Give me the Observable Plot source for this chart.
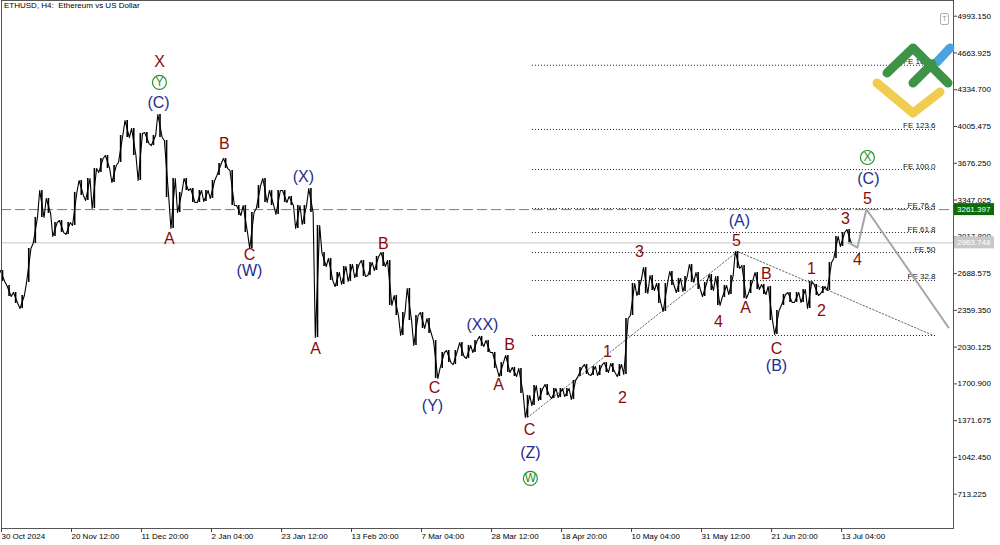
<!DOCTYPE html>
<html><head><meta charset="utf-8">
<script src="https://cdn.jsdelivr.net/npm/d3@7"></script>
<script src="https://cdn.jsdelivr.net/npm/@observablehq/plot@0.6"></script>
<style>
html,body{margin:0;padding:0;background:#fff;}
#wrap{position:relative;width:1000px;height:545px;overflow:hidden;background:#fff;}
#title{position:absolute;left:4px;top:1px;font:8px "Liberation Sans",Arial,sans-serif;color:#000;white-space:pre;}
#logo{position:absolute;left:0;top:0;pointer-events:none;}
</style></head><body>
<div id="wrap"><div id="chart"></div><div id="title">ETHUSD, H4:  Ethereum vs US Dollar</div>
<svg id="logo" width="1000" height="545">
  <polyline points="877,83 913,113 940,92" fill="none" stroke="#f2cc4e" stroke-width="9" stroke-linecap="round" stroke-linejoin="round"/>
  <polyline points="937,62 950,48" fill="none" stroke="#4aa3df" stroke-width="9" stroke-linecap="round"/>
  <polyline points="887,73 913,48 948,83" fill="none" stroke="#3d9447" stroke-width="9" stroke-linecap="round" stroke-linejoin="round"/>
  <polyline points="913,83 932,64" fill="none" stroke="#3d9447" stroke-width="9" stroke-linecap="round"/>
</svg></div>
<script>
// ---- data ----
const barStart = "2024-10-30T04:00:00Z";
const stepHours = 48;
const ethHigh = [2716,2582,2519,2492,2913,3191,3432,3361,3146,3164,
3146,3415,3522,3540,3629,3719,3746,3656,3925,4059,
3988,3943,3952,3925,4113,3880,3540,3415,3540,3450,
3432,3432,3522,3674,3719,3611,3298,3298,3235,3477,
3540,3432,3432,3432,3379,3298,3298,3450,3119,2877,
2824,2698,2752,2770,2770,2806,2788,2842,2877,2806,
2492,2340,2555,2313,2340,2286,2089,1982,2000,2000,
2071,2045,2089,2125,2089,1982,1892,1955,1848,1839,
1597,1686,1660,1695,1660,1660,1660,1731,1848,1874,
1857,1866,1892,1883,1874,2286,2600,2627,2743,2671,
2600,2600,2707,2645,2662,2770,2698,2609,2680,2662,
2582,2671,2886,2761,2627,2698,2591,2573,2358,2501,
2519,2519,2546,2618,2591,2573,2788,3021,3056,3083];
const ethLow = [2618,2483,2421,2376,2609,2958,3191,3227,3021,3056,
3039,3119,3388,3343,3271,3594,3629,3504,3683,3907,
3746,3522,3853,3835,3907,3370,3092,3235,3432,3325,
3325,3334,3361,3567,3629,3298,3209,3056,2913,3271,
3325,3298,3218,3325,3298,3092,3128,3235,2116,2752,
2627,2573,2591,2618,2653,2662,2671,2716,2752,2403,
2313,2134,2268,2045,2197,2152,1749,1839,1892,1874,
1946,1928,1982,2036,1982,1839,1767,1803,1767,1615,
1400,1507,1552,1597,1570,1579,1588,1561,1767,1785,
1776,1776,1803,1803,1767,1785,2313,2492,2510,2537,
2421,2349,2582,2519,2528,2609,2546,2483,2537,2403,
2474,2501,2734,2465,2510,2546,2501,2268,2143,2403,
2430,2430,2430,2376,2492,2510,2537,2824,2931,2964];
const lastPrice = 2963.748;
const resistance = 3261.397;

const priceTicks = [713.225,1042.450,1371.675,1700.900,2030.125,2359.350,2688.575,3017.800,3347.025,3676.250,4005.475,4334.700,4663.925,4993.150];
const timeTicks = ["2024-10-30T04:00Z","2024-11-20T12:00Z","2024-12-11T20:00Z","2025-01-02T04:00Z","2025-01-23T12:00Z","2025-02-13T20:00Z","2025-03-07T04:00Z","2025-03-28T12:00Z","2025-04-18T20:00Z","2025-05-10T04:00Z","2025-05-31T12:00Z","2025-06-21T20:00Z","2025-07-13T04:00Z"];
const timeTickLabels = ["30 Oct 2024","20 Nov 12:00","11 Dec 20:00","2 Jan 04:00","23 Jan 12:00","13 Feb 20:00","7 Mar 04:00","28 Mar 12:00","18 Apr 20:00","10 May 04:00","31 May 12:00","21 Jun 20:00","13 Jul 04:00"];
const timeDomain = ["2024-10-29T20:42Z","2025-08-15T23:36Z"];
const priceDomain = [406, 5133.7];

const feLabels = ["","FE 32.8","FE 50","FE 61.8","FE 76.4","FE 100.0","FE 123.6","FE 161.8"];
const feValues = [2134,2627,2877,3056,3271,3620,3979,4554];
const feStart = "2025-04-09T16:00Z";
const feEnd = "2025-08-10T12:00Z";

const trendDates1 = ["2025-04-08T04:00Z","2025-06-11T04:00Z"];
const trendValues1 = [1400,2886];
const trendDates2 = ["2025-06-11T04:00Z","2025-08-09T21:00Z"];
const trendValues2 = [2886,2134];

const forecastDates = ["2025-07-15T04:00Z","2025-07-17T17:00Z","2025-07-20T11:00Z","2025-08-14T11:00Z"];
const forecastValues = [2963.748,2922,3265,2206];

// wave labels: text, date, value, kind (r = red, b = blue)
const waveText  = ["X","(C)","B","A","(X)","C","(W)","A","B","C","(Y)","(XX)","B","A","C","(Z)","1","2","3","4","5","(A)","A","B","C","(B)","1","2","3","4","5","(C)"];
const waveDates = ["2024-12-17T00:00Z","2024-12-16T17:00Z","2025-01-05T19:00Z","2024-12-20T01:00Z","2025-01-29T21:00Z","2025-01-13T10:00Z","2025-01-13T10:00Z","2025-02-02T13:00Z","2025-02-23T06:00Z","2025-03-10T19:00Z","2025-03-10T05:00Z","2025-03-25T10:00Z","2025-04-02T16:00Z","2025-03-30T08:00Z","2025-04-08T18:00Z","2025-04-09T01:00Z","2025-05-02T13:00Z","2025-05-07T03:00Z","2025-05-12T07:00Z","2025-06-05T09:00Z","2025-06-10T20:00Z","2025-06-11T18:00Z","2025-06-13T14:00Z","2025-06-19T23:00Z","2025-06-23T01:00Z","2025-06-23T01:00Z","2025-07-03T17:00Z","2025-07-06T18:00Z","2025-07-14T01:00Z","2025-07-17T17:00Z","2025-07-20T18:00Z","2025-07-21T01:00Z"];
const waveValues = [4588,4220,3853,3003,3558,2859,2716,2018,2958,1668,1507,2233,2054,1695,1292,1086,1991,1579,2886,2260,2985,3164,2385,2689,2018,1866,2734,2358,3182,2815,3361,3540];
const waveKind = ["r","b","r","r","b","r","b","r","r","r","b","b","r","r","r","b","r","r","r","r","r","b","r","r","r","b","r","r","r","r","r","b"];
const circText = ["Y","W","X"];
const circDates = ["2024-12-17T00:00Z","2025-04-09T01:00Z","2025-07-20T18:00Z"];
const circValues = [4400,854,3728];

// ---- build ----
const t0 = new Date(barStart).getTime();
const H = 3600e3;
const path = [];
const bars = [];
for (let i = 0; i < ethHigh.length; i++) {
  const hi = ethHigh[i], lo = ethLow[i];
  const next = i + 1 < ethHigh.length ? (ethHigh[i+1] + ethLow[i+1]) / 2 : lastPrice;
  const order = Math.abs(hi - next) < Math.abs(lo - next) ? [lo, hi] : [hi, lo];
  const tc = t0 + i * stepHours * H;
  path.push({t: new Date(tc - 16 * H), v: order[0]});
  path.push({t: new Date(tc + 16 * H), v: order[1]});
  bars.push({t: new Date(tc), hi, lo});
}
const D = s => new Date(s);
const feData = feValues.map((v, i) => ({v, label: feLabels[i]}));
const waves = waveText.map((s, i) => ({s, t: D(waveDates[i]), v: waveValues[i], k: waveKind[i]}));
const circles = circText.map((s, i) => ({s, t: D(circDates[i]), v: circValues[i]}));
const trend1 = trendDates1.map((d, i) => ({t: D(d), v: trendValues1[i]}));
const trend2 = trendDates2.map((d, i) => ({t: D(d), v: trendValues2[i]}));
const forecast = forecastDates.map((d, i) => ({t: D(d), v: forecastValues[i]}));
const tickDates = timeTicks.map(D);

const RED = "#8b0a0a", BLUE = "#1f2d8f", GREEN = "#23902a";

const plot = Plot.plot({
  width: 1000, height: 545,
  marginTop: 0, marginBottom: 17, marginLeft: 1, marginRight: 47,
  style: {fontFamily: "'Liberation Sans', Arial, sans-serif", fontSize: "8px", background: "#fff", color: "#000"},
  x: {type: "utc", domain: timeDomain.map(D)},
  y: {domain: priceDomain},
  marks: [
    Plot.ruleY([lastPrice], {stroke: "#c4c4c4", strokeWidth: 1}),
    Plot.ruleY(feData, {y: "v", x1: () => D(feStart), x2: () => D(feEnd), stroke: "#222", strokeDasharray: "1,2", strokeWidth: 1}),
    Plot.text(feData, {y: "v", x: () => D(feEnd), text: "label", textAnchor: "end", lineAnchor: "bottom", dy: -1, fontSize: 8, fill: "#111"}),
    Plot.ruleY([resistance], {stroke: "#4c9c4c", strokeDasharray: "10,4", strokeWidth: 1}),
    Plot.line(trend1, {x: "t", y: "v", stroke: "#555", strokeDasharray: "1.5,2", strokeWidth: 0.9}),
    Plot.line(trend2, {x: "t", y: "v", stroke: "#555", strokeDasharray: "1.5,2", strokeWidth: 0.9}),
    Plot.ruleX(bars, {x: "t", y1: "lo", y2: "hi", stroke: "#000", strokeWidth: 1.6}),
    Plot.line(path, {x: "t", y: "v", stroke: "#000", strokeWidth: 1.1}),
    Plot.line(forecast, {x: "t", y: "v", stroke: "#a6a6a6", strokeWidth: 2}),
    Plot.text(waves, {x: "t", y: "v", text: "s", fill: d => d.k === "r" ? RED : BLUE, fontSize: 16, textAnchor: "middle", lineAnchor: "middle"}),
    Plot.dot(circles, {x: "t", y: "v", r: 7, stroke: GREEN, strokeWidth: 1.2, fill: "#fff"}),
    Plot.text(circles, {x: "t", y: "v", text: "s", fill: GREEN, fontSize: 12, textAnchor: "middle", lineAnchor: "middle"}),
    Plot.frame({stroke: "#555"}),
    Plot.axisX({ticks: tickDates, tickFormat: (d, i) => timeTickLabels[i], tickSize: 4, tickPadding: 1, textAnchor: "start", dx: -1, fontSize: 8, stroke: "#444", label: null}),
    Plot.axisY({anchor: "right", ticks: priceTicks, tickFormat: d => d.toFixed(3), tickSize: 3, tickPadding: 1, fontSize: 8, stroke: "#444", label: null})
  ]
});
document.getElementById("chart").appendChild(plot);

// price tags on the right axis
const ys = plot.scale("y");
const svg = d3.select(plot);
[[resistance, "#0b6b0b"], [lastPrice, "#c8c8c8"]].forEach(([v, c]) => {
  const y = ys.apply(v);
  const g = svg.append("g").attr("text-anchor", "start");
  g.append("rect").attr("x", 954).attr("y", y - 6).attr("width", 40).attr("height", 12).attr("fill", c);
  g.append("text").attr("x", 957).attr("y", y).attr("dy", "0.35em").attr("fill", "#fff")
    .attr("text-anchor", "start").attr("font-size", 8).text(v.toFixed(3));
});
// small "T" button
const b = svg.append("g");
b.append("rect").attr("x", 940.5).attr("y", 13.5).attr("width", 8).attr("height", 11).attr("rx", 1.5).attr("fill", "#fff").attr("stroke", "#b0b0b0");
b.append("text").attr("x", 944.5).attr("y", 19).attr("dy", "0.35em").attr("text-anchor", "middle").attr("font-size", 7).attr("fill", "#999").text("T");
</script>
</body></html>
